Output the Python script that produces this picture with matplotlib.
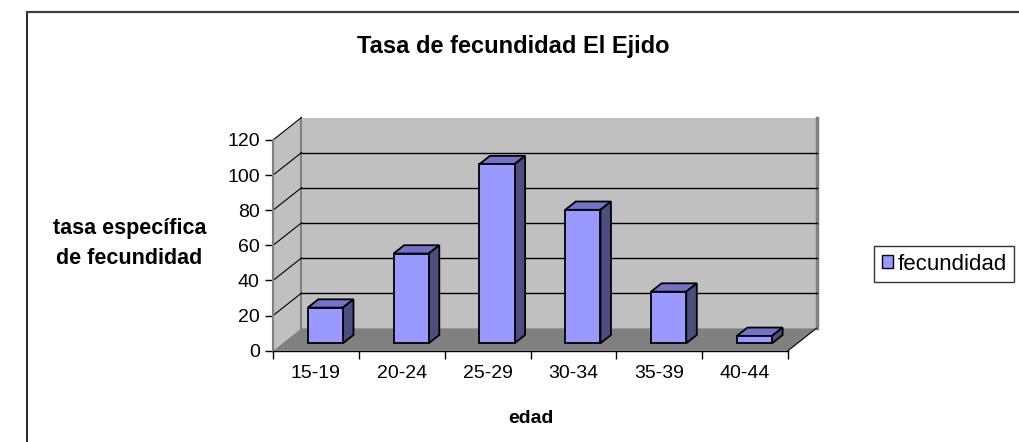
import numpy as np
import matplotlib
matplotlib.use('Agg')
import matplotlib.pyplot as plt
from matplotlib.patches import Polygon, Patch
from matplotlib.lines import Line2D

plt.rcParams['font.family'] = ['Liberation Sans', 'DejaVu Sans']

# data
categories = ['15-19', '20-24', '25-29', '30-34', '35-39', '40-44']
fecundidad = [20.3, 51.1, 102.0, 76.0, 29.4, 4.2]
yticks = [0, 20, 40, 60, 80, 100, 120]

W, H = 1020, 442
fig = plt.figure(figsize=(W / 100, H / 100), dpi=100)
fig.patch.set_facecolor('white')

# outer frame of the chart (cut off at right and bottom)
fig.add_artist(Line2D([27 / W, 27 / W], [0, 1 - 12 / H], color='black', lw=1.2))
fig.add_artist(Line2D([27 / W, 1], [1 - 12 / H, 1 - 12 / H], color='#404040', lw=1.6))

ax = fig.add_axes([273 / W, 1 - 350.7 / H, 515 / W, 210.7 / H])
ax.patch.set_visible(False)
n = len(categories)
x = np.arange(n)
ax.set_xlim(-0.5, n - 0.5)
ax.set_ylim(0, 120)

# depth of the 3d box, in data units
DX = 28.5 / 515 * n
DY = 22.5 / 210.7 * 120
x0, x1, ytop = -0.5, n - 0.5, 120

# walls and floor
ax.add_patch(Polygon([(x0 + DX, DY), (x1 + DX, DY), (x1 + DX, ytop + DY), (x0 + DX, ytop + DY)],
                     closed=True, fc='#c0c0c0', ec='none', clip_on=False, zorder=0))
ax.add_patch(Polygon([(x0, 0), (x0 + DX, DY), (x0 + DX, ytop + DY), (x0, ytop)],
                     closed=True, fc='#c0c0c0', ec='none', clip_on=False, zorder=0))
ax.add_patch(Polygon([(x0, 0), (x1, 0), (x1 + DX, DY), (x0 + DX, DY)],
                     closed=True, fc='#808080', ec='none', clip_on=False, zorder=1))
# wall edges
ax.plot([x0 + DX, x0 + DX], [DY, ytop + DY], color='#808080', lw=1.5, clip_on=False, zorder=1)
ax.plot([x1 + DX, x1 + DX], [DY, ytop + DY], color='#808080', lw=2.5, clip_on=False, zorder=1)
ax.plot([x1, x1 + DX], [0, DY], color='black', lw=0.8, clip_on=False, zorder=2)

# gridlines
for v in yticks[1:-1]:
    ax.plot([x0 + DX, x1 + DX], [v + DY, v + DY], color='black', lw=1.0, clip_on=False, zorder=1)
for v in yticks[1:]:
    ax.plot([x0, x0 + DX], [v, v + DY], color='black', lw=0.8, clip_on=False, zorder=1)

# bars
F, G = 0.33, 0.70
BW = 0.41
ax.bar(x + F * DX, fecundidad, width=BW, bottom=F * DY, color='#9999ff',
       edgecolor='black', lw=1.3, zorder=5, clip_on=False)
for xi, v in zip(x, fecundidad):
    l, r = xi - BW / 2, xi + BW / 2
    top = [(l + F * DX, v + F * DY), (r + F * DX, v + F * DY),
           (r + G * DX, v + G * DY), (l + G * DX, v + G * DY)]
    side = [(r + F * DX, F * DY), (r + G * DX, G * DY),
            (r + G * DX, v + G * DY), (r + F * DX, v + F * DY)]
    ax.add_patch(Polygon(top, closed=True, fc='#7272c8', ec='black', lw=1.3, zorder=4, clip_on=False))
    ax.add_patch(Polygon(side, closed=True, fc='#4d4d80', ec='black', lw=1.3, zorder=4, clip_on=False))

# axes
for s in ['top', 'right']:
    ax.spines[s].set_visible(False)
ax.spines['left'].set_color('#808080')
ax.spines['left'].set_linewidth(1.5)
ax.spines['bottom'].set_color('black')
ax.spines['bottom'].set_linewidth(1.0)
ax.spines['left'].set_zorder(2)
ax.spines['bottom'].set_zorder(3)

ax.set_yticks(yticks)
ax.tick_params(axis='y', direction='out', length=6, width=1, color='black', labelsize=14, pad=3.5)
ax.set_xticks(np.arange(-0.5, n, 1))
ax.set_xticklabels([])
ax.set_xticks(x, minor=True)
ax.set_xticklabels(categories, minor=True)
ax.tick_params(axis='x', which='major', direction='out', length=6, width=1, color='black')
ax.tick_params(axis='x', which='minor', length=0, labelsize=14, pad=10)

# titles
fig.text(513 / W, 1 - 53 / H, 'Tasa de fecundidad El Ejido', ha='center', va='baseline',
         fontsize=17, fontweight='bold')
fig.text(130 / W, 1 - 234 / H, 'tasa específica', ha='center', va='baseline',
         fontsize=15.5, fontweight='bold')
fig.text(129 / W, 1 - 264 / H, 'de fecundidad', ha='center', va='baseline',
         fontsize=15.5, fontweight='bold')
fig.text(531 / W, 1 - 423 / H, 'edad', ha='center', va='baseline',
         fontsize=14, fontweight='bold')

# legend
handle = Patch(facecolor='#9999ff', edgecolor='black', lw=1)
leg = fig.legend([handle], ['fecundidad'], loc='center left',
                 bbox_to_anchor=(874 / W, 1 - 264 / H), fontsize=16, frameon=True,
                 fancybox=False, edgecolor='black', handlelength=0.5, handleheight=0.5,
                 handletextpad=0.2, borderpad=0.35, borderaxespad=0)
leg.get_frame().set_linewidth(1.0)

fig.savefig('out.png', dpi=100, facecolor='white')
